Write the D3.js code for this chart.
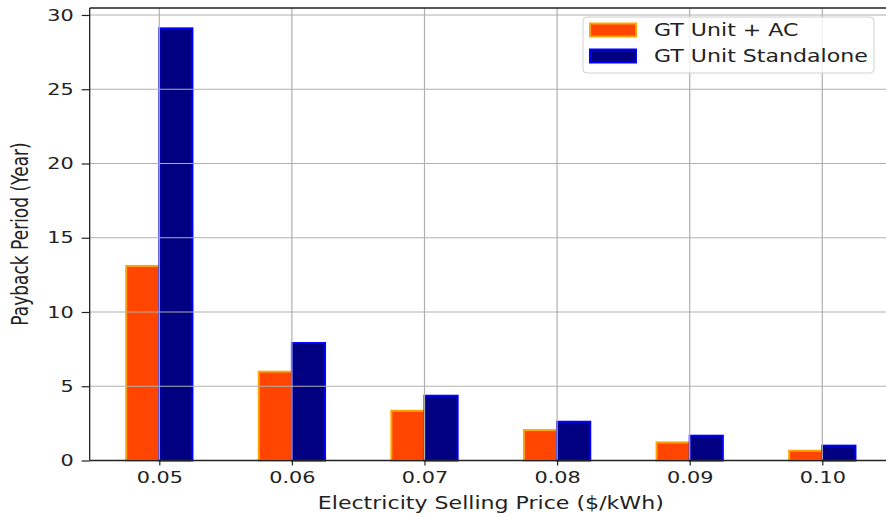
<!DOCTYPE html>
<html>
<head>
<meta charset="utf-8">
<script src="https://cdn.jsdelivr.net/npm/d3@7"></script>
<style>
  body { margin: 0; background: #fff; overflow: hidden; }
  text { font-family: "DejaVu Sans", sans-serif; fill: #222; }
</style>
</head>
<body>
<div id="chart"></div>
<script>
// data
const prices = [0.05, 0.06, 0.07, 0.08, 0.09, 0.10];
const priceLabels = ["0.05", "0.06", "0.07", "0.08", "0.09", "0.10"];
const gtWithAC = [13.1, 5.98, 3.35, 2.05, 1.22, 0.66];
const gtStandalone = [29.1, 7.91, 4.36, 2.61, 1.67, 1.0];
const yTicks = [0, 5, 10, 15, 20, 25, 30];
const seriesNames = ["GT Unit + AC", "GT Unit Standalone"];

const W = 886, H = 517;
const barW = 0.0025;
const sx = 1.3; // picture is stretched sideways

const svg = d3.select("#chart").append("svg")
    .attr("width", W).attr("height", H);

// scales (plot runs off the right edge like the picture)
const x = d3.scaleLinear().domain([0.05, 0.10]).range([159.3, 822.3]);
const xLeft = x(0.04475), xRight = x(0.10525);
const y = d3.scaleLinear().domain([0, 30.47]).range([460.5, 8]);

// bars
const bars = svg.append("g");
bars.selectAll("rect.ac")
    .data(gtWithAC)
    .join("rect")
    .attr("x", (d, i) => x(prices[i] - barW))
    .attr("y", d => y(d))
    .attr("width", x(barW) - x(0))
    .attr("height", d => y(0) - y(d))
    .attr("fill", "#ff4500")
    .attr("stroke", "orange")
    .attr("stroke-width", 2);
bars.selectAll("rect.sa")
    .data(gtStandalone)
    .join("rect")
    .attr("x", (d, i) => x(prices[i]))
    .attr("y", d => y(d))
    .attr("width", x(barW) - x(0))
    .attr("height", d => y(0) - y(d))
    .attr("fill", "#000080")
    .attr("stroke", "blue")
    .attr("stroke-width", 2);

// grid on top of bars
const grid = svg.append("g").attr("stroke", "#b0b0b0").attr("stroke-width", 1.2);
grid.selectAll("line.h").data(yTicks).join("line")
    .attr("x1", xLeft).attr("x2", xRight)
    .attr("y1", d => y(d)).attr("y2", d => y(d));
grid.selectAll("line.v").data(prices).join("line")
    .attr("x1", d => x(d)).attr("x2", d => x(d))
    .attr("y1", y.range()[1]).attr("y2", y(0));

// axes
const yAxis = svg.append("g")
    .attr("transform", `translate(${xLeft},0)`)
    .call(d3.axisLeft(y).tickValues(yTicks).tickSize(8).tickPadding(4));
const xAxis = svg.append("g")
    .attr("transform", `translate(0,${y(0)})`)
    .call(d3.axisBottom(x).tickValues(prices).tickFormat((d, i) => priceLabels[i]).tickSize(5).tickPadding(6));
[xAxis, yAxis].forEach(a => {
  a.select(".domain").remove();
  a.selectAll("line").attr("stroke", "#222").attr("stroke-width", 1.2);
  a.selectAll("text").style("font-size", "16px").attr("fill", "#222");
});
yAxis.selectAll(".tick text")
    .attr("transform", `translate(-16,0) scale(${sx},1)`)
    .attr("x", 0).attr("text-anchor", "end");
xAxis.selectAll(".tick text").attr("transform", `scale(${sx},1)`);

// spines
svg.append("line").attr("x1", xLeft).attr("x2", xLeft).attr("y1", y.range()[1]).attr("y2", y(0))
    .attr("stroke", "#222").attr("stroke-width", 1.3);
svg.append("line").attr("x1", xLeft).attr("x2", xRight).attr("y1", y(0)).attr("y2", y(0))
    .attr("stroke", "#222").attr("stroke-width", 1.3);
svg.append("line").attr("x1", xLeft).attr("x2", xRight).attr("y1", y.range()[1]).attr("y2", y.range()[1])
    .attr("stroke", "#222").attr("stroke-width", 1.3);

// axis titles
svg.append("text")
    .attr("transform", `translate(${(159.3 + 822.3) / 2},509) scale(${sx},1)`)
    .attr("text-anchor", "middle")
    .style("font-size", "17px")
    .text("Electricity Selling Price ($/kWh)");
svg.append("text")
    .attr("transform", `translate(28,234) scale(${sx},1) rotate(-90)`)
    .attr("text-anchor", "middle")
    .style("font-size", "17px")
    .text("Payback Period (Year)");

// legend
const legend = svg.append("g");
legend.append("rect")
    .attr("x", 583).attr("y", 17).attr("width", 291).attr("height", 56)
    .attr("rx", 4)
    .attr("fill", "rgba(255,255,255,0.8)")
    .attr("stroke", "#d0d0d0");
const legColors = [["#ff4500", "orange"], ["#000080", "blue"]];
seriesNames.forEach((name, i) => {
  const cy = 30 + i * 26;
  legend.append("rect")
      .attr("x", 590).attr("y", cy - 6.5).attr("width", 46).attr("height", 13)
      .attr("fill", legColors[i][0]).attr("stroke", legColors[i][1]).attr("stroke-width", 2);
  legend.append("text")
      .attr("transform", `translate(654,${cy + 6}) scale(${sx},1)`)
      .style("font-size", "17px")
      .text(name);
});
</script>
</body>
</html>
